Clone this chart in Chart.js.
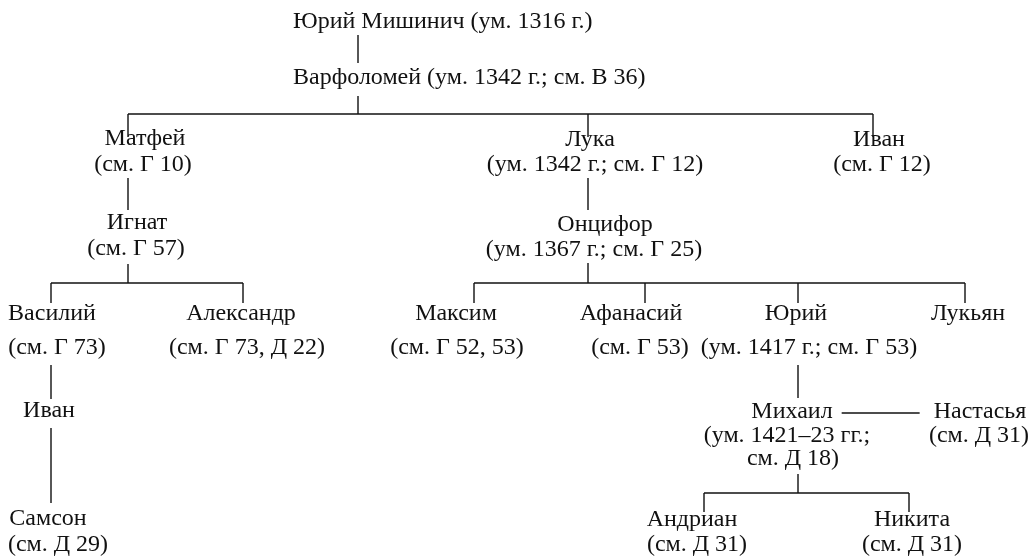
<!DOCTYPE html>
<html>
<head>
<meta charset="utf-8">
<script src="https://cdn.jsdelivr.net/npm/chart.js@4/dist/chart.umd.min.js"></script>
<style>
html,body{margin:0;padding:0;background:#fff;}
#wrap{position:relative;width:1034px;height:558px;}
</style>
</head>
<body>
<div id="wrap"><canvas id="c"></canvas></div>
<script>
// ---- data: people of the family tree ----
const names = ["Юрий Мишинич (ум. 1316 г.)","Варфоломей (ум. 1342 г.; см. В 36)","Матфей","Лука","Иван","Игнат","Онцифор","Василий","Александр","Максим","Афанасий","Юрий","Лукьян","Иван","Михаил","Настасья","Самсон","Андриан","Никита"];
const notes = [[],[],["(см. Г 10)"],["(ум. 1342 г.; см. Г 12)"],["(см. Г 12)"],["(см. Г 57)"],["(ум. 1367 г.; см. Г 25)"],["(см. Г 73)"],["(см. Г 73, Д 22)"],["(см. Г 52, 53)"],["(см. Г 53)"],["(ум. 1417 г.; см. Г 53)"],[],[],["(ум. 1421–23 гг.;","см. Д 18)"],["(см. Д 31)"],["(см. Д 29)"],["(см. Д 31)"],["(см. Д 31)"]];
// parent -> children relations
const familyParent   = [0,   1,       2,   3,   5,     6,           7,    13,   11,   14];
const familyChildren = [[1], [2,3,4], [5], [6], [7,8], [9,10,11,12],[13], [16], [14], [17,18]];
const spouses = [[14,15]];

// ---- layout (chart units, y downward) ----
const nameX  = [293,293,145,590,879,137,605, 52,241,456,631,796,968, 49,792,980, 48,692,912];
const nameY  = [ 22, 78,139,140,140,223,225,314,314,314,314,314,314,411,412,412,519,520,520];
const noteX  = [[],[],[143],[595],[882],[136],[594],[57],[247],[457],[640],[809],[],[],[787,793],[979],[58],[697],[912]];
const noteY  = [[],[],[165],[165],[165],[249],[250],[348],[348],[348],[348],[348],[],[],[436,459],[436],[545],[545],[545]];
const leftAligned = [0,1];
const lineX  = [358,358,128,588,873,128,588, 51,243,474,645,798,965, 51,798,  0, 51,704,909];
const topY   = [  0, 63,137,137,137,210,210,303,303,303,303,303,303,399,398,  0,503,512,512];
const botY   = [ 35, 96,178,178,  0,264,263,365,  0,  0,  0,365,  0,428,474,  0,  0,  0,  0];
const barY   = [  0,114,  0,  0,283,283,  0,  0,  0,493];
const FONT = '24px "Liberation Serif", "Times New Roman", serif';
const INK = '#111';

// build connector segments from relations
const segs = [];
familyParent.forEach((p, i) => {
  const ch = familyChildren[i];
  if (ch.length === 1 && !barY[i]) {
    segs.push([[lineX[ch[0]], botY[p]], [lineX[ch[0]], topY[ch[0]]]]);
  } else {
    const by = barY[i];
    segs.push([[lineX[p], botY[p]], [lineX[p], by]]);
    const xs = ch.map(c => lineX[c]);
    segs.push([[Math.min(...xs), by], [Math.max(...xs), by]]);
    ch.forEach(c => segs.push([[lineX[c], by], [lineX[c], topY[c]]]));
  }
});

const lineStyle = { type: 'line', borderColor: INK, borderWidth: 1.4, pointRadius: 0, fill: false, tension: 0 };
const datasets = segs.map(s => Object.assign({}, lineStyle, { data: s.map(p => ({x: p[0], y: p[1]})) }));

// spouse connector: between the two names, from text widths
const ctxMeasure = document.createElement('canvas').getContext('2d');
ctxMeasure.font = FONT;
spouses.forEach(sp => {
  const a = sp[0], b = sp[1];
  const ra = nameX[a] + ctxMeasure.measureText(names[a]).width / 2 + 9;
  const lb = nameX[b] - ctxMeasure.measureText(names[b]).width / 2 - 14;
  datasets.push(Object.assign({}, lineStyle, { data: [{x: ra, y: nameY[a] + 1}, {x: lb, y: nameY[a] + 1}] }));
});

const textPlugin = {
  id: 'treeText',
  afterDatasetsDraw(chart) {
    const {ctx, scales} = chart;
    ctx.save();
    ctx.font = FONT;
    ctx.fillStyle = INK;
    ctx.textBaseline = 'middle';
    names.forEach((n, i) => {
      ctx.textAlign = leftAligned.includes(i) ? 'left' : 'center';
      ctx.fillText(n, scales.x.getPixelForValue(nameX[i]), scales.y.getPixelForValue(nameY[i]));
      notes[i].forEach((t, j) => {
        ctx.fillText(t, scales.x.getPixelForValue(noteX[i][j]), scales.y.getPixelForValue(noteY[i][j]));
      });
    });
    ctx.restore();
  }
};

new Chart(document.getElementById('c'), {
  type: 'scatter',
  data: { datasets },
  options: {
    responsive: true, maintainAspectRatio: false, animation: false,
    layout: { padding: 0 },
    plugins: { legend: { display: false }, tooltip: { enabled: false } },
    events: [],
    scales: {
      x: { type: 'linear', min: 0, max: 1034, display: false },
      y: { type: 'linear', min: 0, max: 558, reverse: true, display: false }
    }
  },
  plugins: [textPlugin]
});
</script>
</body>
</html>
